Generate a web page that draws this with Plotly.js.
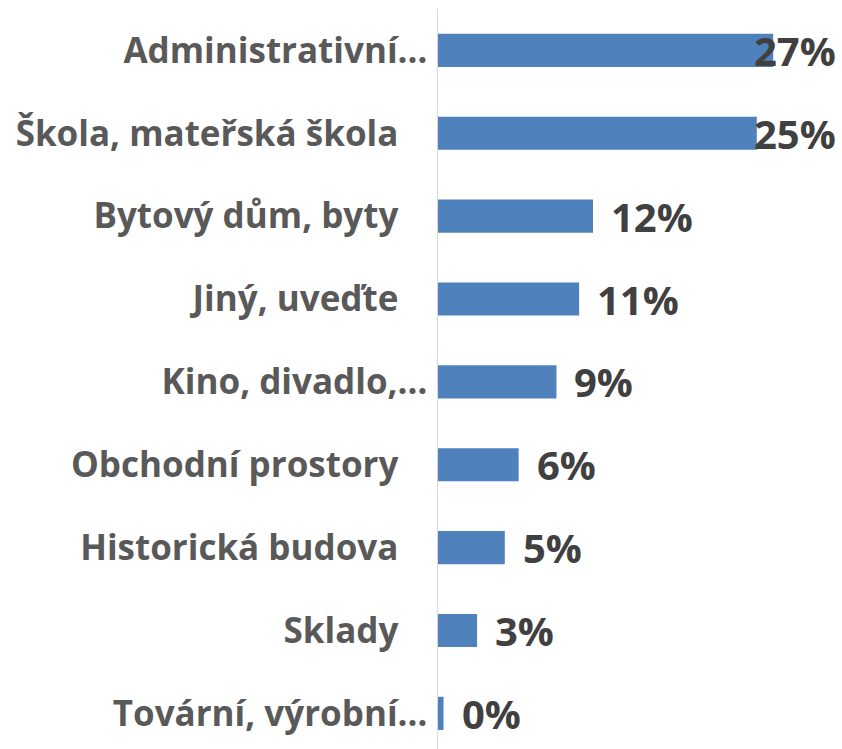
<!DOCTYPE html>
<html>
<head>
<meta charset="utf-8">
<script src="https://cdn.plot.ly/plotly-3.0.1.min.js"></script>
<style>html,body{margin:0;padding:0;background:#fff;}</style>
</head>
<body>
<div id="chart" style="width:842px;height:749px;"></div>
<script>
// Data (top to bottom)
const categories = [
  "Administrativní…",
  "Škola, mateřská škola",
  "Bytový dům, byty",
  "Jiný, uveďte",
  "Kino, divadlo,…",
  "Obchodní prostory",
  "Historická budova",
  "Sklady",
  "Tovární, výrobní…"
];
const shares = [0.266, 0.253, 0.123, 0.112, 0.094, 0.064, 0.053, 0.031, 0.0044];

const X_MAX = 0.3206;
const PLOT_W = 842 - 438;

// pad labels that are not truncated (Excel leaves extra room)
const tickText = categories.map(c => c.endsWith('…') ? c : c + '\u2002\u2009\u2009');

const trace = {
  type: 'bar',
  orientation: 'h',
  y: categories,
  x: shares,
  marker: {color: '#4f81bd'},
  hoverinfo: 'skip'
};

const font = '"Open Sans", Lato, sans-serif';
const annotations = shares.map((v, i) => {
  const label = Math.round(v * 100) + '%';
  const estW = label.length * 27;
  const overflow = (v / X_MAX) * PLOT_W + 19 + estW > PLOT_W;
  const base = {
    y: categories[i], yref: 'y', yanchor: 'middle',
    text: label, showarrow: false,
    font: {family: font, size: 40, color: '#404040', weight: 'bold'}
  };
  if (overflow) {
    return Object.assign(base, {x: 1, xref: 'paper', xanchor: 'right', xshift: -4});
  }
  return Object.assign(base, {x: v, xref: 'x', xanchor: 'left', xshift: 16});
});

const layout = {
  width: 842, height: 749,
  margin: {l: 438, r: 0, t: 9, b: 0},
  paper_bgcolor: '#ffffff', plot_bgcolor: '#ffffff',
  bargap: 0.6,
  showlegend: false,
  xaxis: {
    range: [0, X_MAX], showgrid: false, zeroline: false,
    showticklabels: false, showline: false, ticks: ''
  },
  yaxis: {
    type: 'category',
    range: [8.43, -0.5],
    tickmode: 'array', tickvals: categories, ticktext: tickText,
    showline: true, linecolor: '#d9d9d9', linewidth: 1.5,
    showgrid: false, zeroline: false, ticks: '',
    ticklabelstandoff: 2,
    tickfont: {family: font, size: 35, color: '#595959', weight: 'bold'}
  },
  annotations: annotations
};

Plotly.newPlot('chart', [trace], layout, {displayModeBar: false, staticPlot: true});
</script>
</body>
</html>
